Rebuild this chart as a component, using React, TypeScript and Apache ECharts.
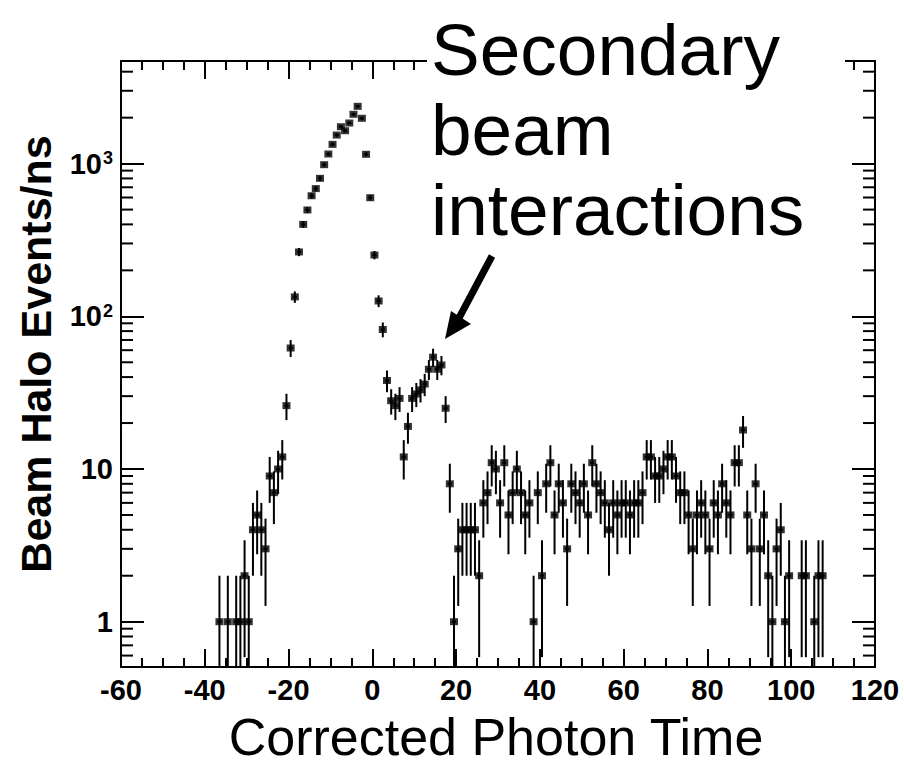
import React, { useEffect, useRef } from 'react';
import * as echarts from 'echarts';

// Bin centres (ns) of the corrected photon time histogram (1 ns bins)
const timeNs = [
  -36.5, -34.5, -32.5, -31.5, -30.5, -29.5, -28.5, -27.5, -26.5, -25.5, -24.5, -23.5, -22.5, -21.5, -20.5,
  -19.5, -18.5, -17.5, -16.5, -15.5, -14.5, -13.5, -12.5, -11.5, -10.5, -9.5, -8.5, -7.5, -6.5, -5.5, -4.5,
  -3.5, -2.5, -1.5, -0.5, 0.5, 1.5, 2.5, 3.5, 4.5, 5.5, 6.5, 7.5, 8.5, 9.5, 10.5, 11.5, 12.5, 13.5, 14.5,
  15.5, 16.5, 17.5, 18.5, 19.5, 20.5, 21.5, 22.5, 23.5, 24.5, 25.5, 26.5, 27.5, 28.5, 29.5, 30.5, 31.5,
  32.5, 33.5, 34.5, 35.5, 36.5, 37.5, 38.5, 39.5, 40.5, 41.5, 42.5, 43.5, 44.5, 45.5, 46.5, 47.5, 48.5,
  49.5, 50.5, 51.5, 52.5, 53.5, 54.5, 55.5, 56.5, 57.5, 58.5, 59.5, 60.5, 61.5, 62.5, 63.5, 64.5, 65.5,
  66.5, 67.5, 68.5, 69.5, 70.5, 71.5, 72.5, 73.5, 74.5, 75.5, 76.5, 77.5, 78.5, 79.5, 80.5, 81.5, 82.5,
  83.5, 84.5, 85.5, 86.5, 87.5, 88.5, 89.5, 90.5, 91.5, 92.5, 93.5, 94.5, 95.5, 96.5, 97.5, 98.5, 99.5,
  102.5, 103.5, 105.5, 106.5, 107.5,
];

// Beam halo events per ns in each bin
const eventsPerNs = [
  1, 1, 1, 1, 2, 1, 4, 5, 4, 3, 9, 7, 10, 12, 26,
  62, 134, 264, 400, 497, 616, 686, 801, 984, 1156, 1337, 1538, 1744, 1642, 1845, 2104,
  2372, 1981, 1151, 598, 252, 126, 82, 38, 28, 26, 29, 12, 19, 29, 31, 33, 36, 45, 54,
  45, 48, 25, 8, 1, 3, 4, 4, 4, 4, 2, 6, 7, 11, 10, 6, 11,
  5, 7, 10, 7, 5, 6, 1, 7, 2, 8, 11, 5, 8, 6, 3, 8, 7,
  6, 8, 5, 11, 8, 7, 6, 4, 6, 5, 6, 6, 5, 6, 6, 7, 12,
  12, 9, 9, 10, 12, 12, 9, 7, 7, 5, 3, 5, 6, 5, 3, 6, 5,
  8, 6, 5, 11, 11, 18, 5, 3, 8, 3, 5, 2, 1, 3, 4, 1, 2,
  2, 2, 1, 2, 2,
];

// Axis ranges and ticks
const X_MIN = -60;
const X_MAX = 120;
const X_INTERVAL = 20;
const Y_MIN = 0.505;
const Y_MAX = 4700;
const logMinorTicks = [
  0.6, 0.7, 0.8, 0.9,
  2, 3, 4, 5, 6, 7, 8, 9,
  20, 30, 40, 50, 60, 70, 80, 90,
  200, 300, 400, 500, 600, 700, 800, 900,
  2000, 3000, 4000,
];

const annotationLines = ['Secondary', 'beam', 'interactions'];
const xTitle = 'Corrected Photon Time';
const yTitle = 'Beam Halo Events/ns';

const FONT = '"Liberation Sans", Arial, Helvetica, sans-serif';

export default function App() {
  const ref = useRef<HTMLDivElement>(null);

  useEffect(() => {
    if (!ref.current) return;
    const chart = echarts.init(ref.current, null, { renderer: 'svg' });

    const points = timeNs.map((t, i) => [t, eventsPerNs[i]]);

    const xAxisBase = {
      type: 'value',
      min: X_MIN,
      max: X_MAX,
      interval: X_INTERVAL,
      axisLine: { show: true, onZero: false, lineStyle: { color: '#000', width: 2 } },
      axisTick: { show: true, inside: true, length: 18, lineStyle: { color: '#000', width: 2 } },
      minorTick: { show: true, splitNumber: 4, length: 9, lineStyle: { color: '#000', width: 2 } },
      splitLine: { show: false },
      minorSplitLine: { show: false },
    };

    const yAxisBase = {
      type: 'log',
      logBase: 10,
      min: Y_MIN,
      max: Y_MAX,
      axisLine: { show: true, onZero: false, lineStyle: { color: '#000', width: 2 } },
      axisTick: { show: true, inside: true, length: 23, lineStyle: { color: '#000', width: 2 } },
      splitLine: { show: false },
    };

    const supFormatter = (v: number) => {
      const p = Math.round(Math.log10(v));
      if (p >= 2) return '10{s|' + p + '}';
      return String(Math.round(Math.pow(10, p)));
    };

    chart.setOption({
      animation: false,
      backgroundColor: '#fff',
      grid: { left: 121, top: 61, width: 754, height: 606, containLabel: false },
      xAxis: [
        {
          ...xAxisBase,
          position: 'bottom',
          axisLabel: {
            show: true,
            color: '#000',
            fontSize: 29,
            fontWeight: 'bold',
            fontFamily: FONT,
            margin: 8,
          },
        },
        {
          ...xAxisBase,
          position: 'top',
          axisLabel: { show: false },
        },
      ],
      yAxis: [
        {
          ...yAxisBase,
          position: 'left',
          axisLabel: {
            show: true,
            showMinLabel: false,
            showMaxLabel: false,
            color: '#000',
            fontSize: 29,
            fontWeight: 'bold',
            fontFamily: FONT,
            margin: 8,
            formatter: supFormatter,
            rich: {
              s: { fontSize: 18, fontWeight: 'bold', fontFamily: FONT, color: '#000', verticalAlign: 'top', padding: [0, 0, 0, 1] },
            },
          },
        },
        {
          ...yAxisBase,
          position: 'right',
          axisLabel: { show: false },
        },
      ],
      series: [
        {
          type: 'custom',
          name: 'logMinorTicks',
          xAxisIndex: 0,
          yAxisIndex: 0,
          silent: true,
          clip: false,
          data: logMinorTicks.map((v) => [0, v]),
          renderItem: (params: any, api: any) => {
            const v = api.value(1);
            const l = api.coord([X_MIN, v]);
            const r = api.coord([X_MAX, v]);
            const st = { stroke: '#000', lineWidth: 2 };
            return {
              type: 'group',
              children: [
                { type: 'line', shape: { x1: l[0], y1: l[1], x2: l[0] + 12, y2: l[1] }, style: st },
                { type: 'line', shape: { x1: r[0], y1: r[1], x2: r[0] - 12, y2: r[1] }, style: st },
              ],
            };
          },
          z: 4,
        },
        {
          type: 'custom',
          name: 'errors',
          xAxisIndex: 0,
          yAxisIndex: 0,
          silent: true,
          clip: true,
          data: points,
          renderItem: (params: any, api: any) => {
            const x = api.value(0);
            const v = api.value(1);
            const err = Math.sqrt(v);
            const lo = Math.max(v - err, Y_MIN);
            const hi = Math.min(v + err, Y_MAX);
            const top = api.coord([x, hi]);
            const bot = api.coord([x, lo]);
            const left = api.coord([x - 0.5, v]);
            const right = api.coord([x + 0.5, v]);
            const st = { stroke: '#000', lineWidth: 2 };
            return {
              type: 'group',
              children: [
                { type: 'line', shape: { x1: top[0], y1: top[1], x2: bot[0], y2: bot[1] }, style: st },
                { type: 'line', shape: { x1: left[0], y1: left[1], x2: right[0], y2: right[1] }, style: st },
              ],
            };
          },
          z: 5,
        },
        {
          type: 'scatter',
          name: 'events',
          xAxisIndex: 0,
          yAxisIndex: 0,
          data: points,
          symbol: 'rect',
          symbolSize: [8, 7],
          itemStyle: { color: '#000' },
          silent: true,
          z: 6,
        },
      ],
      graphic: [
        {
          type: 'rect',
          z: 100,
          shape: { x: 427, y: 30, width: 418, height: 58 },
          style: { fill: '#fff' },
        },
        ...annotationLines.map((t, i) => ({
          type: 'text',
          z: 101,
          x: 431,
          y: 49 + i * 80,
          style: {
            text: t,
            fontSize: 73,
            fontFamily: FONT,
            fill: '#000',
            align: 'left',
            verticalAlign: 'middle',
            textAlign: 'left',
            textVerticalAlign: 'middle',
          },
        })),
        {
          type: 'line',
          z: 101,
          shape: { x1: 492, y1: 256, x2: 459, y2: 318 },
          style: { stroke: '#000', lineWidth: 7 },
        },
        {
          type: 'polygon',
          z: 101,
          shape: { points: [[445, 339], [451, 311], [471, 324]] },
          style: { fill: '#000' },
        },
        {
          type: 'text',
          z: 101,
          x: 36,
          y: 354,
          rotation: Math.PI / 2,
          style: {
            text: yTitle,
            fontSize: 43,
            fontWeight: 'bold',
            fontFamily: FONT,
            fill: '#000',
            align: 'center',
            verticalAlign: 'middle',
            textAlign: 'center',
            textVerticalAlign: 'middle',
          },
        },
        {
          type: 'text',
          z: 101,
          x: 496,
          y: 737,
          style: {
            text: xTitle,
            fontSize: 52,
            fontFamily: FONT,
            fill: '#000',
            align: 'center',
            verticalAlign: 'middle',
            textAlign: 'center',
            textVerticalAlign: 'middle',
          },
        },
      ],
    });

    return () => chart.dispose();
  }, []);

  return (
    <div
      ref={ref}
      style={{ position: 'fixed', left: 0, top: 0, width: 904, height: 766, background: '#fff' }}
    />
  );
}
